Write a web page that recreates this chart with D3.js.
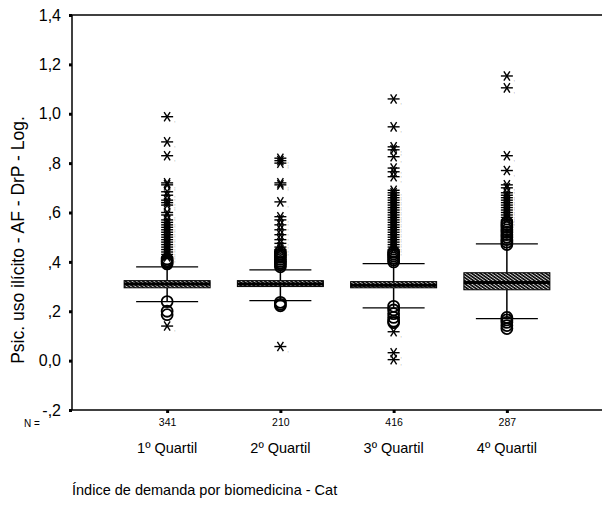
<!DOCTYPE html>
<html><head><meta charset="utf-8">
<script src="https://cdn.jsdelivr.net/npm/d3@7/dist/d3.min.js"></script>
<style>body{margin:0;background:#fff}svg{display:block}text{font-family:"Liberation Sans",Arial,sans-serif;fill:#000}</style>
</head><body>
<svg id="c" width="604" height="506"></svg>
<script>
const categories = ["1º Quartil","2º Quartil","3º Quartil","4º Quartil"];
const counts = [341,210,416,287];
const whiskerLow = [0.239,0.243,0.214,0.170];
const q1 = [0.295,0.300,0.295,0.287];
const median = [0.310,0.310,0.305,0.316];
const q3 = [0.324,0.324,0.320,0.356];
const whiskerHigh = [0.380,0.368,0.393,0.473];
const outlierCircles = [
  [0.412,0.405,0.398,0.392,0.239,0.200,0.186],
  [0.440,0.432,0.425,0.418,0.410,0.402,0.395,0.388,0.380,0.236,0.228,0.222],
  [0.440,0.432,0.424,0.416,0.408,0.400,0.220,0.205,0.190,0.175,0.160,0.154],
  [0.560,0.550,0.540,0.530,0.520,0.510,0.500,0.490,0.480,0.470,0.175,0.165,0.155,0.142,0.130]
];
const outlierStars = [
  [0.988,0.886,0.830,0.720,0.712,0.684,0.670,0.650,0.640,0.630,0.600,0.590,0.570,0.560,0.550,0.540,0.530,0.520,0.510,0.500,0.490,0.480,0.470,0.460,0.450,0.440,0.430,0.420,0.140],
  [0.820,0.810,0.800,0.720,0.712,0.643,0.583,0.570,0.550,0.530,0.510,0.490,0.475,0.460,0.450,0.057],
  [1.060,0.947,0.866,0.854,0.826,0.780,0.765,0.745,0.690,0.680,0.670,0.660,0.650,0.640,0.630,0.620,0.610,0.600,0.590,0.580,0.570,0.560,0.550,0.540,0.530,0.520,0.510,0.500,0.490,0.480,0.470,0.460,0.450,0.117,0.032,0.004],
  [1.153,1.105,0.830,0.770,0.712,0.700,0.680,0.670,0.660,0.650,0.640,0.630,0.620,0.610,0.600,0.590,0.580,0.570]
];
const yTicks = [1.4,1.2,1.0,0.8,0.6,0.4,0.2,0.0,-0.2];
const yTickLabels = ["1,4","1,2","1,0",",8",",6",",4",",2","0,0","-,2"];
const yTitle = "Psic. uso ilícito  - AF - DrP - Log.";
const xTitle = "Índice de demanda por biomedicina - Cat";

const svg = d3.select("#c");
const L = 72, R = 602, T = 15, B = 410;
const y = d3.scaleLinear().domain([-0.2,1.4]).range([B,T]);
const x = d3.scalePoint().domain(categories).range([L,R]).padding(0.84);
const boxW = 86, capW = 62;

const defs = svg.append("defs");
const pat = defs.append("pattern").attr("id","hatch").attr("patternUnits","userSpaceOnUse")
  .attr("width",2.5).attr("height",2.5).attr("patternTransform","rotate(35)");
pat.append("rect").attr("width",2.5).attr("height",2.5).attr("fill","#fff");
pat.append("rect").attr("width",2.5).attr("height",1.8).attr("fill","#111");

// frame
svg.append("line").attr("x1",L).attr("x2",R).attr("y1",T).attr("y2",T).attr("stroke","#000").attr("stroke-width",1.5);
svg.append("line").attr("x1",L).attr("x2",R).attr("y1",B).attr("y2",B).attr("stroke","#000").attr("stroke-width",1.5);

// y axis
const yAxis = d3.axisLeft(y).tickValues(yTicks).tickSize(3).tickPadding(8)
  .tickFormat((d,i)=>yTickLabels[i]);
const ga = svg.append("g").attr("transform",`translate(${L},0)`).call(yAxis);
ga.select(".domain").attr("stroke","#000").attr("stroke-width",1.5).attr("d",`M0,${B}V${T}`);
ga.selectAll(".tick line").attr("stroke","#000").attr("stroke-width",3);
ga.selectAll(".tick text").style("font-size","16px").style("font-family","'Liberation Sans',Arial,sans-serif");

// x axis
const xAxis = d3.axisBottom(x).tickSize(3).tickPadding(6).tickFormat((d,i)=>counts[i]);
const gx = svg.append("g").attr("transform",`translate(0,${B})`).call(xAxis);
gx.select(".domain").remove();
gx.selectAll(".tick line").attr("stroke","#000").attr("stroke-width",3);
gx.selectAll(".tick text").style("font-size","10.5px").style("font-family","'Liberation Sans',Arial,sans-serif");
svg.append("text").attr("x",24).attr("y",427).style("font-size","10px").text("N =");

categories.forEach((c,i)=>{
  svg.append("text").attr("x",x(c)).attr("y",453).attr("text-anchor","middle").style("font-size","14.5px").text(c);
});

svg.append("text").attr("x",72).attr("y",495).style("font-size","14.5px").text(xTitle);
svg.append("text").attr("transform","translate(24,240) rotate(-90)").attr("text-anchor","middle")
  .style("font-size","17.5px").text(yTitle);

// boxes
const g = svg.append("g");
categories.forEach((c,i)=>{
  const cx = x(c);
  g.append("line").attr("x1",cx).attr("x2",cx).attr("y1",y(whiskerHigh[i])).attr("y2",y(q3[i])).attr("stroke","#000").attr("stroke-width",1.5);
  g.append("line").attr("x1",cx).attr("x2",cx).attr("y1",y(q1[i])).attr("y2",y(whiskerLow[i])).attr("stroke","#000").attr("stroke-width",1.5);
  [whiskerHigh[i],whiskerLow[i]].forEach(v=>{
    g.append("line").attr("x1",cx-capW/2).attr("x2",cx+capW/2).attr("y1",y(v)).attr("y2",y(v)).attr("stroke","#000").attr("stroke-width",1.3);
  });
  g.append("rect").attr("x",cx-boxW/2).attr("width",boxW).attr("y",y(q3[i])).attr("height",y(q1[i])-y(q3[i]))
    .attr("fill","url(#hatch)").attr("stroke","#000").attr("stroke-width",1);
  g.append("line").attr("x1",cx-boxW/2).attr("x2",cx+boxW/2).attr("y1",y(median[i])).attr("y2",y(median[i])).attr("stroke","#000").attr("stroke-width",3);

  outlierCircles[i].forEach(v=>{
    g.append("circle").attr("cx",cx).attr("cy",y(v)).attr("r",5.5).attr("fill","none").attr("stroke","#000").attr("stroke-width",1.8);
  });
  outlierStars[i].forEach(v=>{
    const sy = y(v), s = 6;
    const st = g.append("g").attr("transform",`translate(${cx},${sy})`);
    [0,60,120].forEach(a=>{
      const r = a*Math.PI/180;
      st.append("line").attr("x1",-s*Math.cos(r)).attr("y1",-s*Math.sin(r)*0.9).attr("x2",s*Math.cos(r)).attr("y2",s*Math.sin(r)*0.9)
        .attr("stroke","#000").attr("stroke-width",1.4);
    });
    g.append("text").attr("x",cx+7).attr("y",sy+5).style("font-size","4px").text(",");
  });
});
</script>
</body></html>
